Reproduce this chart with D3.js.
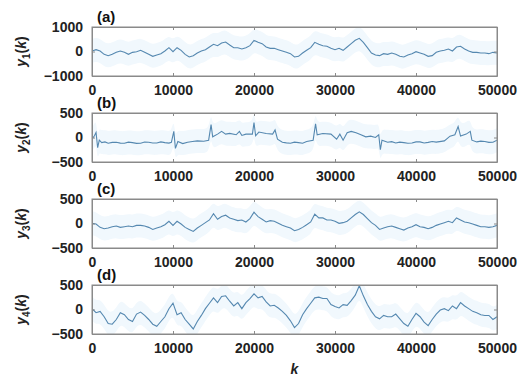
<!DOCTYPE html>
<html>
<head>
<meta charset="utf-8">
<script src="https://cdn.jsdelivr.net/npm/d3@7"></script>
<style>
  body { margin: 0; background: #fff; }
  svg text { font-family: "Liberation Sans", Arial, Helvetica, sans-serif; }
</style>
</head>
<body>
<svg id="chart" width="526" height="383"></svg>
<script>
"use strict";

//sample positions k for the a, c and d traces
var kGrid = d3.range(0, 50001, 500);

//trace (a) y1(k)
var y1 = [20, 75, 20, -116, -170, -116, -34, 20, -34, -116,
  -34, -7, 48, -34, -116, -197, -143, -88, 20, 156,
  -7, 156, 48, -116, -224, -170, -61, 20, 75, 184,
  292, 238, 347, 388, 265, 156, 156, 102, 156, 238,
  456, 374, 320, 184, 129, 129, 75, 20, -34, -88,
  -224, -197, -61, 48, 156, 374, 292, 238, 211, 129,
  75, 129, 48, 184, 320, 456, 537, 374, 156, -61,
  -143, -170, -88, -116, -61, -116, -197, -224, -143, -88,
  -7, -61, -116, -197, -170, -34, 20, 48, 102, 20,
  184, 211, 102, 20, -34, -34, -61, -61, -88, -34,
  -61];

//trace (b) y2(k), spiky so it has its own k positions
var k2 = [0, 300, 500, 700, 900, 1200, 1600, 2000, 2500, 3000, 3500, 4000, 4500, 5000, 5500, 6000,
  6500, 7000, 7500, 8000, 8500, 9000, 9500, 9800, 10100, 10300, 10600, 11200, 11800, 12400,
  13000, 13800, 14400, 14700, 14900, 15500, 16000, 16500, 17000, 17800, 18200, 18500, 19000,
  19800, 20000, 20200, 20600, 21500, 22300, 22600, 22900, 23500, 24000, 24500, 25000, 25500,
  26000, 26500, 27300, 27600, 27800, 28500, 29500, 30200, 30600, 31000, 31500, 32000, 32600,
  33200, 33800, 34400, 35000, 35400, 35600, 35800, 36500, 37000, 37500, 38000, 38500, 39000,
  39500, 40000, 40500, 41000, 41500, 42000, 42500, 43500, 44200, 44800, 45200, 45500, 46200,
  46700, 46900, 47500, 48000, 48500, 49000, 49500, 50000];
var y2 = [-35, 35, 104, -208, -55, -104, -90, -118, -100, -97, -115, -118, -95, -104, -120, -118,
  -92, -97, -112, -111, -90, -104, -115, -97, 125, -222, -83, -125, -97, -83,
  -69, -75, -55, 264, 14, 69, 125, 69, 83, 56, 125, 42, 69,
  69, 305, 35, 111, 83, 69, 153, -35, -97, -110, -118, -95, -104,
  -118, -83, -55, 278, 56, 83, 69, -35, 69, -55, 97, 125, 97,
  56, 14, 28, 0, 56, -250, -55, -97, -85, -111, -95, -104, -118,
  -111, -90, -90, -111, -100, -83, -95, -69, 28, 56, 222, 28, 69,
  125, -55, -90, -75, -83, -100, -97, -55];

//trace (c) y3(k)
var y3 = [3, -10, -79, -107, -93, -66, -52, -79, -66, -52,
  -66, -38, -38, -52, -79, -121, -93, -66, -24, 45,
  -38, 45, -10, -79, -121, -162, -93, -38, 17, 72,
  200, 86, 141, 169, 114, 86, 59, 72, 31, 100,
  230, 141, 86, 31, 59, 45, 3, -38, -66, -93,
  -148, -121, -79, -24, 31, 190, 114, 114, 72, 72,
  45, 3, 17, 45, 114, 183, 238, 183, 100, 17,
  -38, -121, -93, -66, -52, -79, -107, -135, -93, -66,
  -24, -66, -79, -107, -79, -38, -10, 17, 45, 17,
  114, 72, 31, 17, -10, -38, -66, -66, -79, -66,
  -38];

//trace (d) y4(k)
var y4 = [17, -66, -38, -148, -286, -300, -204, -66, -107, -204,
  -245, -93, -52, -121, -204, -300, -342, -245, -148, 17,
  130, -107, -66, -204, -300, -397, -245, -121, 17, 128,
  238, 141, 266, 279, 169, 72, 141, 17, 141, 224,
  321, 238, 266, 155, 72, 86, 31, -38, -121, -231,
  -369, -286, -107, 17, 128, 238, 252, 224, 224, 100,
  59, 31, 100, 86, 183, 293, 486, 279, 100, -38,
  -148, -190, -121, -148, -148, -93, -190, -286, -342, -204,
  -79, -148, -259, -328, -204, -93, -10, 17, -24, 72,
  17, 141, 72, 17, -38, -66, -107, -121, -121, -204,
  -148];

var xTicks = [0, 10000, 20000, 30000, 40000, 50000];
var panelNames = ["(a)", "(b)", "(c)", "(d)"];
var panelSubs = ["1", "2", "3", "4"];
var yLimits = [[-1000, 1000], [-500, 500], [-500, 500], [-500, 500]];
var yTickSets = [[-1000, 0, 1000], [-500, 0, 500], [-500, 0, 500], [-500, 0, 500]];

var svg = d3.select("#chart");
var left = 92, right = 497, panelH = 49;
var tops = [27, 113, 199, 285];

var x = d3.scaleLinear().domain([0, 50000]).range([left, right]);

var series = [
  kGrid.map(function(k, i) { return [k, y1[i]]; }),
  k2.map(function(k, i) { return [k, y2[i]]; }),
  kGrid.map(function(k, i) { return [k, y3[i]]; }),
  kGrid.map(function(k, i) { return [k, y4[i]]; })
];

series.forEach(function(data, p) {
  var top = tops[p];
  var y = d3.scaleLinear().domain(yLimits[p]).range([top + panelH, top]);
  var g = svg.append("g");

  //clip to the box
  svg.append("clipPath").attr("id", "clip" + p)
    .append("rect").attr("x", left).attr("y", top)
    .attr("width", right - left).attr("height", panelH);

  //very faint light blue band round the trace
  var band = d3.area()
    .x(function(d) { return x(d[0]); })
    .y0(function(d) { return y(d[1]) + 12; })
    .y1(function(d) { return y(d[1]) - 12; })
    .curve(d3.curveBasis);
  g.append("path").datum(data)
    .attr("clip-path", "url(#clip" + p + ")")
    .attr("d", band)
    .attr("fill", "#f1f8fd");

  //the trace itself
  var line = d3.line()
    .x(function(d) { return x(d[0]); })
    .y(function(d) { return y(d[1]); });
  g.append("path").datum(data)
    .attr("clip-path", "url(#clip" + p + ")")
    .attr("d", line)
    .attr("fill", "none")
    .attr("stroke", "#5588b0")
    .attr("stroke-width", 1.1);

  //axes, matlab style: ticks inside on all sides
  var bottomAxis = g.append("g")
    .attr("transform", "translate(0," + (top + panelH) + ")")
    .call(d3.axisBottom(x).tickValues(xTicks).tickFormat(d3.format("d")).tickSizeInner(-3).tickSizeOuter(0).tickPadding(9));
  var topAxis = g.append("g")
    .attr("transform", "translate(0," + top + ")")
    .call(d3.axisTop(x).tickValues(xTicks).tickFormat("").tickSizeInner(-3).tickSizeOuter(0));
  var leftAxis = g.append("g")
    .attr("transform", "translate(" + left + ",0)")
    .call(d3.axisLeft(y).tickValues(yTickSets[p]).tickFormat(d3.format("d")).tickSizeInner(-3).tickSizeOuter(0).tickPadding(9));
  var rightAxis = g.append("g")
    .attr("transform", "translate(" + right + ",0)")
    .call(d3.axisRight(y).tickValues(yTickSets[p]).tickFormat("").tickSizeInner(-3).tickSizeOuter(0));

  [bottomAxis, topAxis, leftAxis, rightAxis].forEach(function(a) {
    a.select(".domain").attr("stroke", "#8a8a8a");
    a.selectAll(".tick line").attr("stroke", "#8a8a8a");
    a.selectAll("text")
      .attr("font-size", "14px")
      .attr("font-weight", "bold")
      .attr("fill", "#222")
      .style("font-family", "'Liberation Sans', Arial, sans-serif");
  });
  //box edges
  g.append("rect")
    .attr("x", left).attr("y", top)
    .attr("width", right - left).attr("height", panelH)
    .attr("fill", "none").attr("stroke", "#8a8a8a");

  //panel label
  g.append("text")
    .attr("x", 97).attr("y", top - 5)
    .attr("font-size", "15px").attr("font-weight", "bold")
    .attr("fill", "#111")
    .text(panelNames[p]);

  //y label like y_1(k)
  var yl = g.append("text")
    .attr("transform", "translate(26," + (top + panelH / 2) + ") rotate(-90)")
    .attr("text-anchor", "middle")
    .attr("font-size", "14px").attr("font-weight", "bold")
    .attr("fill", "#222");
  yl.append("tspan").attr("font-style", "italic").text("y");
  yl.append("tspan").attr("font-size", "10px").attr("dy", 4).text(panelSubs[p]);
  yl.append("tspan").attr("dy", -4).text("(");
  yl.append("tspan").attr("font-style", "italic").text("k");
  yl.append("tspan").text(")");
});

//x label
svg.append("text")
  .attr("x", (left + right) / 2).attr("y", 374)
  .attr("text-anchor", "middle")
  .attr("font-size", "14px").attr("font-weight", "bold").attr("font-style", "italic")
  .attr("fill", "#222")
  .text("k");
</script>
</body>
</html>
